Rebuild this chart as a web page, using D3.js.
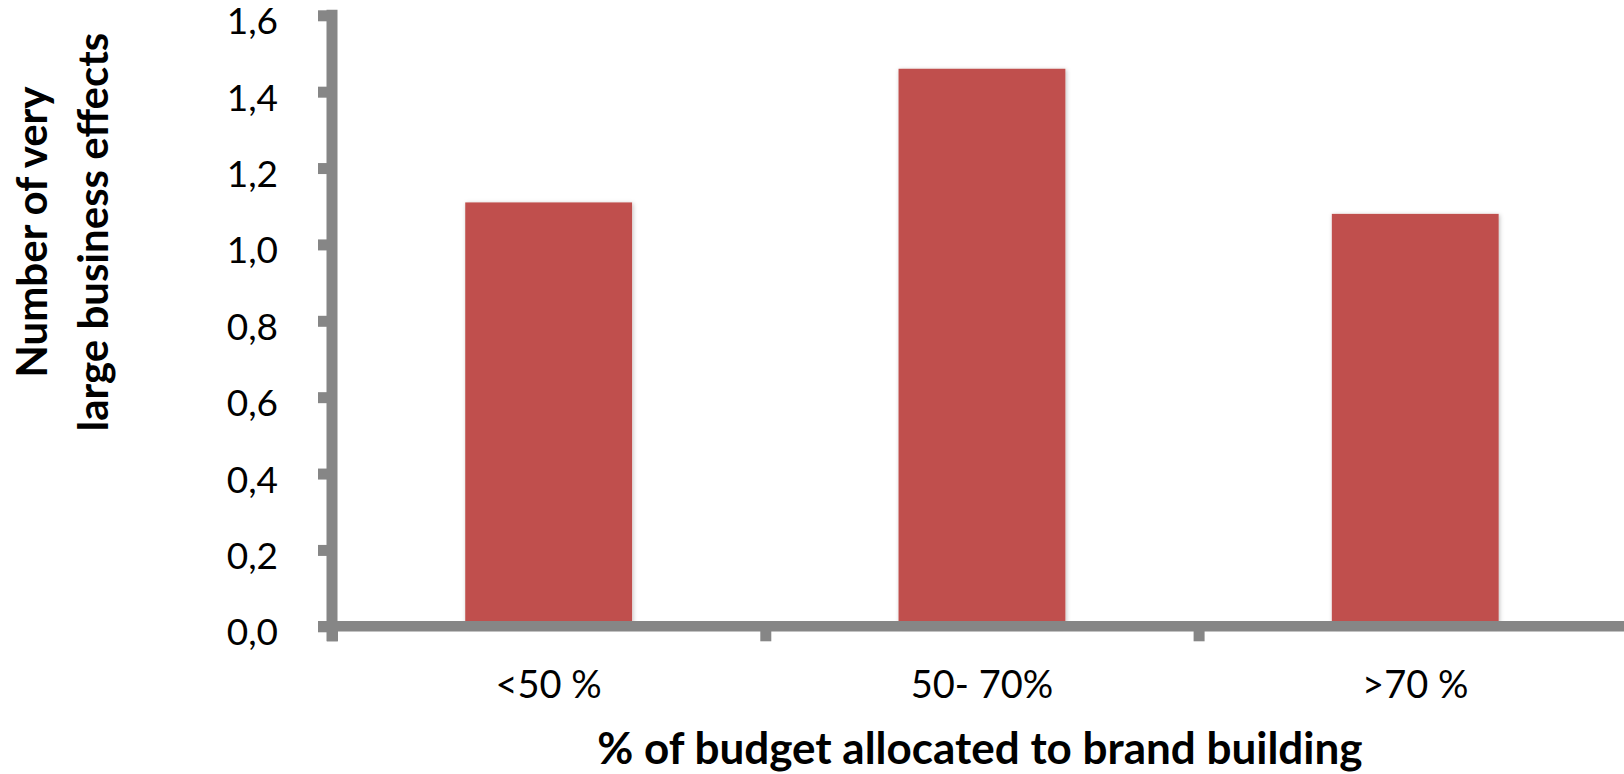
<!DOCTYPE html>
<html>
<head>
<meta charset="utf-8">
<script src="https://cdn.jsdelivr.net/npm/d3@7"></script>
<style>
  body { margin: 0; background: #fff; }
  text { font-family: Lato, "Open Sans", sans-serif; fill: #000; }
</style>
</head>
<body>
<div id="chart-area"></div>
<script>
const categories = ["<50 %", "50- 70%", ">70 %"];
const values = [1.11, 1.46, 1.08];
const yTicks = [0, 0.2, 0.4, 0.6, 0.8, 1.0, 1.2, 1.4, 1.6];
const xTitle = "% of budget allocated to brand building";
const yTitleLines = ["Number of very", "large business effects"];

const svgWidth = 1624;
const svgHeight = 774;
const axisColor = "#868686";
const barColor = "#C0504D";

const x0 = 332;      // plot origin (y axis position)
const step = 433.3;  // width of one category slot

const svg = d3.select("#chart-area")
  .append("svg")
  .attr("width", svgWidth)
  .attr("height", svgHeight);

// soft shadow like the Excel bars
const defs = svg.append("defs");
defs.append("filter")
  .attr("id", "shadow")
  .attr("x", "-10%").attr("y", "-10%")
  .attr("width", "120%").attr("height", "120%")
  .append("feDropShadow")
    .attr("dx", 1).attr("dy", 1)
    .attr("stdDeviation", 2)
    .attr("flood-color", "#000")
    .attr("flood-opacity", 0.25);

const x = d3.scaleBand()
  .domain(categories)
  .range([x0, x0 + step * categories.length])
  .paddingInner(0.615)
  .paddingOuter(0.3075);

// boundaries between categories, for the x tick marks
const xEdge = d3.scaleLinear()
  .domain([0, categories.length])
  .range([x0, x0 + step * categories.length]);

const y = d3.scaleLinear()
  .domain([0, 1.6])
  .range([626.3, 15.3]);

// bars
svg.append("g")
  .selectAll("rect")
  .data(values)
  .enter()
  .append("rect")
    .attr("x", (d, i) => x(categories[i]))
    .attr("y", d => y(d))
    .attr("width", x.bandwidth())
    .attr("height", d => y(0) - y(d))
    .attr("fill", barColor)
    .attr("filter", "url(#shadow)");

// y axis
const yAxis = svg.append("g")
  .attr("transform", `translate(${x0}, 0)`)
  .call(d3.axisLeft(y)
    .tickValues(yTicks)
    .tickSizeInner(14)
    .tickSizeOuter(0)
    .tickPadding(40)
    .tickFormat(d => d3.format(".1f")(d).replace(".", ",")));

yAxis.select(".domain").remove();
yAxis.selectAll(".tick line")
  .attr("stroke", axisColor)
  .attr("stroke-width", 11);
yAxis.selectAll(".tick text")
  .attr("font-size", 37)
  .attr("dy", "0.5em");

svg.append("line")
  .attr("x1", x0).attr("x2", x0)
  .attr("y1", y(1.6) - 5.5).attr("y2", y(0) + 15)
  .attr("stroke", axisColor)
  .attr("stroke-width", 11);

// x axis tick marks between categories
const xTickAxis = svg.append("g")
  .attr("transform", `translate(0, ${y(0)})`)
  .call(d3.axisBottom(xEdge)
    .tickValues(d3.range(categories.length + 1))
    .tickSizeInner(15)
    .tickSizeOuter(0)
    .tickFormat(""));

xTickAxis.select(".domain").remove();
xTickAxis.selectAll(".tick line")
  .attr("stroke", axisColor)
  .attr("stroke-width", 11);

svg.append("line")
  .attr("x1", x0 - 14).attr("x2", svgWidth + 20)
  .attr("y1", y(0)).attr("y2", y(0))
  .attr("stroke", axisColor)
  .attr("stroke-width", 10.5);

// category labels
const xAxis = svg.append("g")
  .attr("transform", `translate(0, ${y(0)})`)
  .call(d3.axisBottom(x).tickSize(0).tickPadding(45));

xAxis.select(".domain").remove();
xAxis.selectAll(".tick text")
  .attr("font-size", 38);

// axis titles
svg.append("text")
  .attr("x", x(categories[1]) + x.bandwidth() / 2 - 2)
  .attr("y", 764)
  .attr("text-anchor", "middle")
  .attr("font-size", 44)
  .attr("font-weight", "bold")
  .text(xTitle);

svg.append("text")
  .attr("transform", "translate(47, 232) rotate(-90)")
  .attr("text-anchor", "middle")
  .attr("font-size", 42)
  .attr("font-weight", "bold")
  .selectAll("tspan")
  .data(yTitleLines)
  .enter()
  .append("tspan")
    .attr("x", 0)
    .attr("y", (d, i) => i * 61)
    .text(d => d);
</script>
</body>
</html>
